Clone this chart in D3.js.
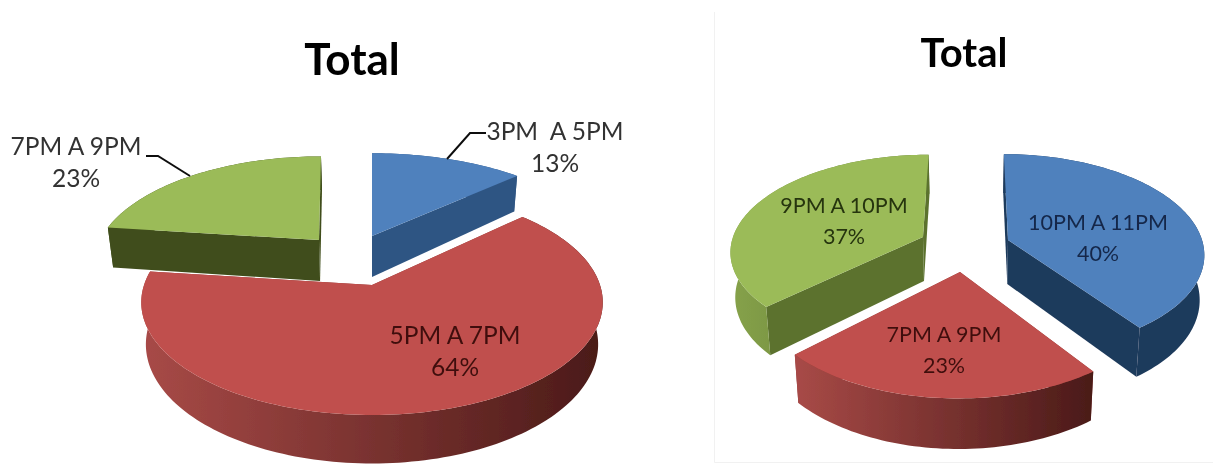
<!DOCTYPE html>
<html>
<head>
<meta charset="utf-8">
<script src="https://cdn.jsdelivr.net/npm/d3@7"></script>
<style>
  html, body { margin: 0; padding: 0; background: #fff; overflow: hidden; }
  text { font-family: Lato, "Open Sans", sans-serif; white-space: pre; text-anchor: middle; }
</style>
</head>
<body>
<div id="chart"></div>
<script>
// data
const leftTitle = "Total";
const leftCategories = ["3PM  A 5PM", "5PM A 7PM", "7PM A 9PM"];
const leftValues = [13, 64, 23];

const rightTitle = "Total";
const rightCategories = ["10PM A 11PM", "7PM A 9PM", "9PM A 10PM"];
const rightValues = [40, 23, 37];

// slice geometry: apex position, radii, perspective, vanishing x
const leftLayout = {
  title: { x: 352, y: 75, size: 44 },
  labelSize: 24.5, labelGap: 32,
  depth: 41, shrink: 0.98, mid: 372,
  order: [0, 2, 1],
  slices: [
    { ax: 372, ay: 236, rx: 229, ry: 101, k: 0.22, vx: 372, top: "#4f81bd", cut: "#2f5583", wall: ["#2f5583", "#2f5583"], text: "#333", lx: 555, ly: 140 },
    { ax: 372, ay: 285, rx: 228, ry: 110, k: 0.154, vx: 372, top: "#c0504d", cut: "#8c3836", wall: ["#a84a47", "#4a1a18"], text: "#40100e", lx: 455, ly: 344 },
    { ax: 319, ay: 240, rx: 219, ry: 102, k: 0.22, vx: 330, top: "#9bbb59", cut: "#3f4d1a", wall: ["#3f4d1a", "#3f4d1a"], text: "#333", lx: 76, ly: 155 }
  ],
  leaders: [
    [[486, 133], [470, 133], [447, 159]],
    [[146, 156], [158, 156], [190, 176]]
  ]
};

const rightLayout = {
  title: { x: 964, y: 67, size: 40 },
  labelSize: 21.5, labelGap: 31,
  depth: 44, shrink: 0.98, mid: 972,
  order: [2, 0, 1],
  slices: [
    { ax: 1008, ay: 240, rx: 194, ry: 97, k: 0.13, vx: 972, top: "#4f81bd", cut: "#1f3a5c", wall: ["#1f3a5c", "#1f3a5c"], text: "#14284a", lx: 1098, ly: 230 },
    { ax: 960, ay: 272, rx: 205, ry: 110, k: 0.13, vx: 972, top: "#c0504d", cut: "#8c3836", wall: ["#a84a47", "#4a1a18"], text: "#40100e", lx: 944, ly: 342 },
    { ax: 923, ay: 237, rx: 190, ry: 93, k: 0.13, vx: 972, top: "#9bbb59", cut: "#5b722f", wall: ["#86a24a", "#5b722f"], text: "#26340f", lx: 844, ly: 213 }
  ],
  leaders: []
};

const width = 1213, height = 466;
const svg = d3.select("#chart").append("svg")
  .attr("width", width)
  .attr("height", height);
const defs = svg.append("defs");

// the reference is a soft scan, so everything gets a very light blur
defs.append("filter").attr("id", "soft")
  .append("feGaussianBlur").attr("stdDeviation", 0.5);

// faint frame round the right picture
svg.append("path")
  .attr("d", "M714.5,12V462.5H1213")
  .attr("fill", "none")
  .attr("stroke", "#f1f1f1");

const pie = d3.pie().sort(null).value(d => d);
const line = d3.line();

function drawPie(name, categories, values, titleText, layout) {
  const arcs = pie(values);
  const g = svg.append("g").attr("id", name).attr("filter", "url(#soft)");

  layout.order.forEach(i => {
    const arc = arcs[i];
    const s = layout.slices[i];

    // plane -> screen, with perspective shrink towards the back
    const project = (a, r, lift) => {
      const sc = 1 / (1 + s.k * r * Math.cos(a));
      const x = s.vx + (s.ax - s.vx + s.rx * r * Math.sin(a)) * sc;
      const y = s.ay - s.ry * r * Math.cos(a) * sc;
      if (!lift) return [x, y];
      return [layout.mid + (x - layout.mid) * layout.shrink, y + layout.depth * sc];
    };

    const n = Math.ceil((arc.endAngle - arc.startAngle) * 40);
    const angles = d3.range(n + 1).map(j => arc.startAngle + (arc.endAngle - arc.startAngle) * j / n);
    const topArc = angles.map(a => project(a, 1, false));
    const lowArc = angles.map(a => project(a, 1, true));

    const gradId = name + "-wall-" + i;
    const xs = topArc.map(p => p[0]);
    const grad = defs.append("linearGradient")
      .attr("id", gradId)
      .attr("gradientUnits", "userSpaceOnUse")
      .attr("x1", d3.min(xs)).attr("x2", d3.max(xs))
      .attr("y1", 0).attr("y2", 0);
    grad.append("stop").attr("offset", 0).attr("stop-color", s.wall[0]);
    grad.append("stop").attr("offset", 1).attr("stop-color", s.wall[1]);

    // the two cut faces, behind the outer wall
    [arc.startAngle, arc.endAngle].forEach(a => {
      const face = [project(a, 0, false), project(a, 1, false), project(a, 1, true), project(a, 0, true)];
      g.append("path")
        .attr("d", line(face) + "Z")
        .attr("fill", s.cut);
    });

    // outer wall
    g.append("path")
      .attr("d", line(topArc.concat(lowArc.slice().reverse())) + "Z")
      .attr("fill", `url(#${gradId})`);

    // top surface
    g.append("path")
      .attr("d", line([project(0, 0, false)].concat(topArc)) + "Z")
      .attr("fill", s.top);
  });

  // labels go on top of every slice
  arcs.forEach((arc, i) => {
    const s = layout.slices[i];
    const t = g.append("text").attr("font-size", layout.labelSize).attr("fill", s.text);
    t.append("tspan").attr("x", s.lx).attr("y", s.ly).text(categories[i]);
    t.append("tspan").attr("x", s.lx).attr("y", s.ly + layout.labelGap).text(arc.value + "%");
  });

  layout.leaders.forEach(pts => {
    g.append("path")
      .attr("d", line(pts))
      .attr("fill", "none")
      .attr("stroke", "#111")
      .attr("stroke-width", 2);
  });

  g.append("text")
    .attr("x", layout.title.x)
    .attr("y", layout.title.y)
    .attr("font-size", layout.title.size)
    .attr("font-weight", 700)
    .attr("fill", "#000")
    .text(titleText);
}

drawPie("left", leftCategories, leftValues, leftTitle, leftLayout);
drawPie("right", rightCategories, rightValues, rightTitle, rightLayout);
</script>
</body>
</html>
